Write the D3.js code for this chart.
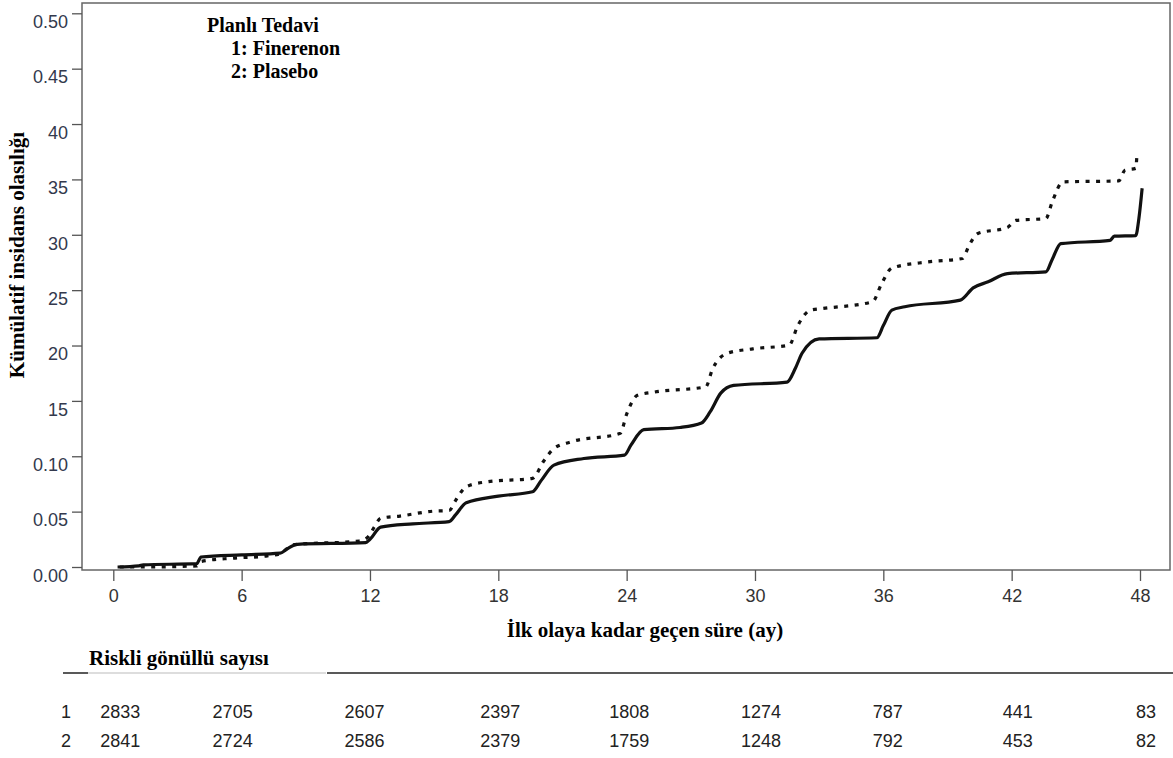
<!DOCTYPE html>
<html>
<head>
<meta charset="utf-8">
<script src="https://cdn.jsdelivr.net/npm/d3@7"></script>
<style>
  html, body { margin: 0; padding: 0; background: #fff; }
  svg { display: block; }
</style>
</head>
<body>
<svg id="chart" width="1173" height="758"></svg>
<script>
// ---------- DATA ----------
const xTicks = [0, 6, 12, 18, 24, 30, 36, 42, 48];
const yTickValues = [0, 0.05, 0.10, 0.15, 0.20, 0.25, 0.30, 0.35, 0.40, 0.45, 0.50];
const yTickLabels = ["0.00", "0.05", "0.10", "15", "20", "25", "30", "35", "40", "0.45", "0.50"];

// Finerenon (1) cumulative incidence: [month, probability]
const finerenon = [
  [0.2,0.000],[1.2,0.001],[1.4,0.002],[3.9,0.003],[4.1,0.009],[6.0,0.011],[7.8,0.0125],[8.1,0.016],
  [8.6,0.0205],[11.8,0.022],[12.0,0.025],[12.5,0.036],[14.0,0.039],[15.7,0.041],[16.0,0.047],[16.5,0.058],
  [18.0,0.064],[19.6,0.068],[20.0,0.078],[20.6,0.092],[22.0,0.098],[23.9,0.101],[24.2,0.110],[24.8,0.124],
  [26.5,0.126],[27.5,0.130],[27.9,0.140],[28.4,0.157],[29.0,0.164],[31.5,0.167],[31.9,0.180],[32.2,0.193],
  [33.0,0.206],[35.7,0.207],[36.0,0.218],[36.4,0.232],[37.0,0.235],[39.6,0.241],[40.2,0.252],[40.9,0.2575],
  [41.8,0.265],[43.6,0.2665],[43.9,0.278],[44.3,0.292],[46.6,0.295],[46.8,0.2987],[47.8,0.2993],[47.95,0.315],
  [48.1,0.342]
];
// Plasebo (2)
const plasebo = [
  [0.3,0.000],[1.4,0.000],[3.9,0.001],[4.1,0.005],[5.6,0.008],[7.2,0.010],[7.8,0.012],[8.4,0.020],
  [11.5,0.0235],[11.9,0.027],[12.2,0.036],[12.5,0.044],[13.4,0.046],[15.0,0.0505],[15.7,0.051],[16.0,0.060],
  [16.5,0.0725],[17.5,0.077],[19.6,0.080],[20.1,0.095],[20.6,0.107],[21.4,0.113],[23.7,0.1207],[24.0,0.138],
  [24.5,0.155],[25.3,0.158],[27.7,0.1627],[28.0,0.178],[28.7,0.193],[29.9,0.197],[31.6,0.2004],[32.0,0.218],
  [32.6,0.232],[33.2,0.2335],[35.5,0.2395],[35.9,0.255],[36.4,0.270],[38.1,0.2755],[39.7,0.2786],[40.0,0.290],
  [40.4,0.301],[41.8,0.3066],[42.2,0.313],[43.6,0.3147],[43.9,0.330],[44.4,0.3478],[47.0,0.3486],[47.3,0.3583],
  [47.8,0.360],[47.85,0.370]
];

// Number at risk table
const riskMonths = [0, 6, 12, 18, 24, 30, 36, 42, 48];
const riskFinerenon = [2833, 2705, 2607, 2397, 1808, 1274, 787, 441, 83];
const riskPlasebo = [2841, 2724, 2586, 2379, 1759, 1248, 792, 453, 82];
const riskRowLabels = ["1", "2"];

const legendTitle = "Planlı Tedavi";
const legendItems = ["1: Finerenon", "2: Plasebo"];
const xTitle = "İlk olaya kadar geçen süre (ay)";
const yTitle = "Kümülatif insidans olasılığı";
const tableTitle = "Riskli gönüllü sayısı";

// ---------- LAYOUT ----------
const svg = d3.select("#chart");
const serif = "'Liberation Serif', 'Times New Roman', serif";
const sans = "'Liberation Sans', Arial, sans-serif";

const x = d3.scaleLinear().domain([0, 48]).range([113.3, 1140]);
const y = d3.scaleLinear().domain([0, 0.5]).range([567, 13.3]);

const frame = { left: 82, right: 1170, top: 3, bottom: 570 };
// table column nudges (layout only)
const colShift = [7, -9, -5.5, 2, 2.5, 6, 4.5, 6, 6];

svg.append("rect").attr("width", 1173).attr("height", 758).attr("fill", "#fff");

// frame
svg.append("rect")
  .attr("x", frame.left).attr("y", frame.top)
  .attr("width", frame.right - frame.left).attr("height", frame.bottom - frame.top)
  .attr("fill", "none").attr("stroke", "#666").attr("stroke-width", 1.5);

// y axis
const yAxis = d3.axisLeft(y).tickValues(yTickValues).tickSize(10).tickPadding(4)
  .tickFormat((d, i) => yTickLabels[i]);
const gy = svg.append("g").attr("transform", `translate(${frame.left},0)`).call(yAxis);
gy.select(".domain").remove();
gy.selectAll(".tick line").attr("stroke", "#555").attr("stroke-width", 1.3);
gy.selectAll(".tick text")
  .attr("font-family", sans).attr("font-size", 18).attr("fill", "#33394d")
  .attr("dy", "0.35em").attr("y", 8).attr("x", -14);

// x axis
const xAxis = d3.axisBottom(x).tickValues(xTicks).tickSize(11).tickPadding(8);
const gx = svg.append("g").attr("transform", `translate(0,${frame.bottom})`).call(xAxis);
gx.select(".domain").remove();
gx.selectAll(".tick line").attr("stroke", "#555").attr("stroke-width", 1.3);
gx.selectAll(".tick text")
  .attr("font-family", sans).attr("font-size", 18).attr("fill", "#333");

// curves
const line = d3.line().x(d => x(d[0])).y(d => y(d[1])).curve(d3.curveMonotoneX);
svg.append("path").datum(plasebo).attr("d", line)
  .attr("fill", "none").attr("stroke", "#111").attr("stroke-width", 3.2)
  .attr("stroke-dasharray", "4,6.5").attr("stroke-linecap", "butt").attr("stroke-linejoin", "round");
svg.append("path").datum(finerenon).attr("d", line)
  .attr("fill", "none").attr("stroke", "#111").attr("stroke-width", 3.2)
  .attr("stroke-linejoin", "round");

// legend
svg.append("text").attr("x", 207).attr("y", 32).text(legendTitle)
  .attr("font-family", serif).attr("font-weight", "bold").attr("font-size", 20).attr("fill", "#000");
svg.selectAll(".leg").data(legendItems).enter().append("text")
  .attr("x", 231).attr("y", (d, i) => 55 + i * 23).text(d => d)
  .attr("font-family", serif).attr("font-weight", "bold").attr("font-size", 20).attr("fill", "#000");

// axis titles
svg.append("text").attr("x", 645).attr("y", 637).attr("text-anchor", "middle").text(xTitle)
  .attr("font-family", serif).attr("font-weight", "bold").attr("font-size", 21).attr("fill", "#000");
svg.append("text").attr("transform", "translate(24,255) rotate(-90)").attr("text-anchor", "middle").text(yTitle)
  .attr("font-family", serif).attr("font-weight", "bold").attr("font-size", 21).attr("fill", "#000");

// table
svg.append("text").attr("x", 89).attr("y", 665).text(tableTitle)
  .attr("font-family", serif).attr("font-weight", "bold").attr("font-size", 21).attr("fill", "#000");
svg.append("line").attr("x1", 63).attr("x2", 88).attr("y1", 673).attr("y2", 673).attr("stroke", "#222").attr("stroke-width", 1.5);
svg.append("line").attr("x1", 88).attr("x2", 326).attr("y1", 673).attr("y2", 673).attr("stroke", "#bbb").attr("stroke-width", 1);
svg.append("line").attr("x1", 327).attr("x2", 1173).attr("y1", 673).attr("y2", 673).attr("stroke", "#222").attr("stroke-width", 1.5);

const rows = [riskFinerenon, riskPlasebo];
const rowY = [712, 741];
rows.forEach((vals, r) => {
  svg.append("text").attr("x", 66).attr("y", rowY[r]).attr("dy", "0.35em").attr("text-anchor", "middle")
    .text(riskRowLabels[r]).attr("font-family", sans).attr("font-size", 18).attr("fill", "#222");
  svg.selectAll(null).data(vals).enter().append("text")
    .attr("x", (d, i) => x(riskMonths[i]) + colShift[i]).attr("y", rowY[r]).attr("dy", "0.35em")
    .attr("text-anchor", "middle").text(d => d)
    .attr("font-family", sans).attr("font-size", 18).attr("fill", "#222");
});
</script>
</body>
</html>
